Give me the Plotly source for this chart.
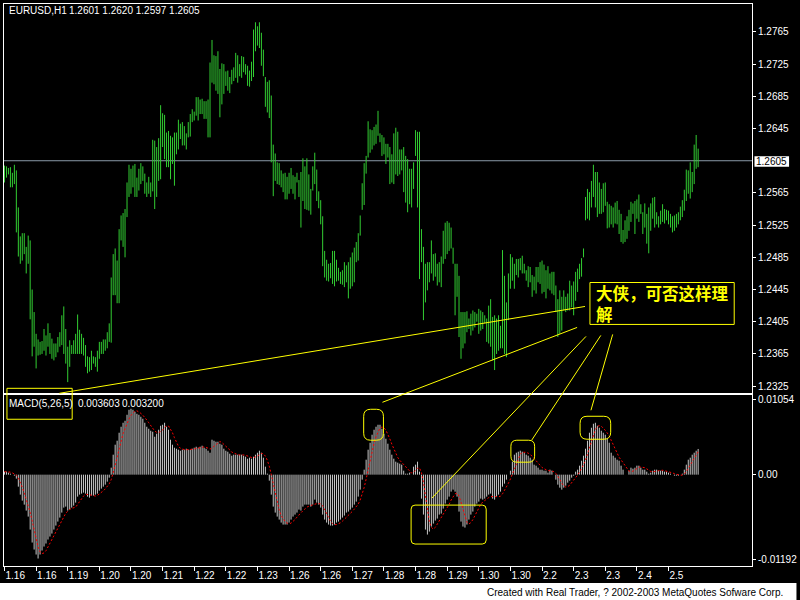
import plotly.graph_objects as go

# ---------------- data ----------------
highs = [1.2599,1.2598,1.2596,1.2597,1.2590,1.2600,1.2593,1.2547,1.2511,1.2515,1.2515,1.2498,1.2512,1.2506,1.2445,1.2417,
1.2390,1.2383,1.2380,1.2381,1.2396,1.2388,1.2403,1.2391,1.2384,1.2378,1.2378,1.2386,1.2392,1.2413,1.2424,1.2396,
1.2374,1.2382,1.2376,1.2382,1.2390,1.2414,1.2395,1.2390,1.2385,1.2376,1.2362,1.2361,1.2369,1.2362,1.2361,1.2369,
1.2380,1.2380,1.2383,1.2383,1.2392,1.2403,1.2460,1.2489,1.2496,1.2481,1.2520,1.2537,1.2540,1.2545,1.2578,1.2600,
1.2595,1.2599,1.2601,1.2584,1.2595,1.2602,1.2598,1.2589,1.2578,1.2585,1.2578,1.2631,1.2630,1.2622,1.2633,1.2674,
1.2664,1.2662,1.2640,1.2642,1.2636,1.2634,1.2640,1.2640,1.2656,1.2651,1.2653,1.2648,1.2639,1.2653,1.2663,1.2669,
1.2666,1.2684,1.2684,1.2681,1.2682,1.2679,1.2679,1.2681,1.2727,1.2755,1.2736,1.2735,1.2741,1.2719,1.2726,1.2725,
1.2716,1.2717,1.2709,1.2718,1.2721,1.2739,1.2736,1.2725,1.2735,1.2734,1.2725,1.2723,1.2717,1.2728,1.2768,1.2777,
1.2772,1.2777,1.2764,1.2743,1.2709,1.2703,1.2705,1.2686,1.2625,1.2614,1.2603,1.2602,1.2593,1.2589,1.2590,1.2585,
1.2590,1.2596,1.2587,1.2585,1.2590,1.2581,1.2591,1.2608,1.2598,1.2608,1.2588,1.2570,1.2598,1.2615,1.2594,1.2567,
1.2556,1.2536,1.2493,1.2482,1.2477,1.2478,1.2493,1.2493,1.2482,1.2472,1.2467,1.2469,1.2479,1.2475,1.2479,1.2485,
1.2491,1.2497,1.2504,1.2515,1.2537,1.2577,1.2602,1.2611,1.2654,1.2644,1.2643,1.2647,1.2650,1.2667,1.2639,1.2637,
1.2634,1.2626,1.2626,1.2622,1.2613,1.2639,1.2646,1.2641,1.2619,1.2619,1.2622,1.2611,1.2607,1.2595,1.2595,1.2603,
1.2643,1.2641,1.2641,1.2520,1.2498,1.2477,1.2479,1.2479,1.2506,1.2489,1.2490,1.2477,1.2479,1.2486,1.2518,1.2528,
1.2530,1.2528,1.2522,1.2497,1.2477,1.2477,1.2462,1.2417,1.2417,1.2417,1.2418,1.2409,1.2415,1.2419,1.2417,1.2415,
1.2421,1.2419,1.2417,1.2413,1.2409,1.2425,1.2433,1.2411,1.2413,1.2409,1.2413,1.2400,1.2494,1.2462,1.2429,1.2465,
1.2489,1.2485,1.2477,1.2483,1.2483,1.2484,1.2487,1.2477,1.2469,1.2474,1.2473,1.2463,1.2461,1.2473,1.2473,1.2479,
1.2481,1.2476,1.2469,1.2474,1.2465,1.2467,1.2467,1.2450,1.2433,1.2444,1.2436,1.2444,1.2436,1.2440,1.2456,1.2450,
1.2455,1.2467,1.2471,1.2477,1.2484,1.2496,1.2560,1.2570,1.2566,1.2580,1.2600,1.2591,1.2591,1.2578,1.2570,1.2577,
1.2578,1.2554,1.2551,1.2549,1.2547,1.2553,1.2555,1.2544,1.2539,1.2519,1.2531,1.2536,1.2544,1.2554,1.2552,1.2555,
1.2557,1.2563,1.2551,1.2541,1.2552,1.2539,1.2547,1.2552,1.2559,1.2560,1.2541,1.2536,1.2543,1.2551,1.2545,1.2544,
1.2543,1.2539,1.2536,1.2537,1.2539,1.2541,1.2548,1.2556,1.2569,1.2594,1.2593,1.2603,1.2591,1.2625,1.2637,1.2620]

lows = [1.2578,1.2584,1.2588,1.2572,1.2572,1.2576,1.2516,1.2486,1.2477,1.2481,1.2489,1.2465,1.2477,1.2408,1.2362,1.2374,
1.2347,1.2363,1.2364,1.2365,1.2369,1.2363,1.2374,1.2365,1.2359,1.2357,1.2361,1.2367,1.2374,1.2376,1.2365,1.2353,
1.2330,1.2349,1.2365,1.2365,1.2365,1.2365,1.2365,1.2365,1.2363,1.2349,1.2341,1.2343,1.2345,1.2353,1.2349,1.2343,
1.2359,1.2365,1.2365,1.2369,1.2372,1.2380,1.2379,1.2438,1.2438,1.2428,1.2428,1.2506,1.2498,1.2485,1.2535,1.2560,
1.2564,1.2572,1.2560,1.2560,1.2568,1.2576,1.2580,1.2564,1.2560,1.2564,1.2560,1.2567,1.2545,1.2560,1.2580,1.2582,
1.2622,1.2607,1.2597,1.2597,1.2582,1.2601,1.2574,1.2613,1.2619,1.2632,1.2624,1.2624,1.2619,1.2634,1.2635,1.2653,
1.2655,1.2661,1.2655,1.2663,1.2663,1.2657,1.2657,1.2634,1.2634,1.2702,1.2700,1.2692,1.2688,1.2659,1.2675,1.2688,
1.2698,1.2692,1.2689,1.2700,1.2704,1.2708,1.2702,1.2710,1.2708,1.2715,1.2712,1.2698,1.2697,1.2704,1.2709,1.2741,
1.2748,1.2745,1.2723,1.2710,1.2672,1.2665,1.2658,1.2603,1.2561,1.2580,1.2576,1.2575,1.2572,1.2566,1.2557,1.2557,
1.2564,1.2570,1.2564,1.2557,1.2578,1.2560,1.2522,1.2555,1.2545,1.2544,1.2543,1.2538,1.2568,1.2576,1.2555,1.2546,
1.2526,1.2474,1.2460,1.2456,1.2455,1.2459,1.2452,1.2449,1.2455,1.2456,1.2452,1.2451,1.2448,1.2454,1.2434,1.2446,
1.2449,1.2454,1.2479,1.2481,1.2512,1.2544,1.2550,1.2589,1.2609,1.2615,1.2619,1.2624,1.2626,1.2636,1.2628,1.2611,
1.2613,1.2601,1.2609,1.2576,1.2578,1.2576,1.2588,1.2586,1.2588,1.2593,1.2566,1.2553,1.2541,1.2551,1.2547,1.2570,
1.2611,1.2547,1.2458,1.2479,1.2407,1.2429,1.2444,1.2454,1.2465,1.2456,1.2461,1.2450,1.2454,1.2448,1.2477,1.2483,
1.2489,1.2493,1.2496,1.2477,1.2413,1.2436,1.2386,1.2359,1.2372,1.2378,1.2392,1.2396,1.2388,1.2394,1.2398,1.2405,
1.2390,1.2394,1.2396,1.2403,1.2380,1.2378,1.2374,1.2357,1.2345,1.2365,1.2369,1.2372,1.2372,1.2365,1.2361,1.2407,
1.2446,1.2456,1.2446,1.2463,1.2460,1.2469,1.2465,1.2465,1.2456,1.2448,1.2454,1.2436,1.2444,1.2440,1.2454,1.2452,
1.2440,1.2442,1.2434,1.2446,1.2444,1.2440,1.2438,1.2417,1.2386,1.2390,1.2394,1.2419,1.2417,1.2419,1.2419,1.2423,
1.2413,1.2431,1.2442,1.2458,1.2461,1.2485,1.2531,1.2533,1.2531,1.2547,1.2560,1.2547,1.2535,1.2539,1.2539,1.2541,
1.2549,1.2521,1.2522,1.2526,1.2522,1.2527,1.2526,1.2514,1.2504,1.2502,1.2504,1.2508,1.2518,1.2529,1.2539,1.2514,
1.2533,1.2529,1.2539,1.2514,1.2522,1.2502,1.2490,1.2518,1.2533,1.2522,1.2526,1.2522,1.2526,1.2529,1.2527,1.2531,
1.2526,1.2522,1.2516,1.2518,1.2522,1.2526,1.2531,1.2535,1.2543,1.2555,1.2564,1.2558,1.2566,1.2576,1.2595,1.2597]

macd = [0.00042,0.00042,0.00028,0.00014,0.0,-0.00014,-0.00056,-0.00168,-0.0028,-0.00364,-0.0042,-0.00504,-0.00588,-0.0077,-0.00952,-0.0105,
-0.0112,-0.01176,-0.0112,-0.01064,-0.01008,-0.00966,-0.0091,-0.00868,-0.00826,-0.0077,-0.00714,-0.00658,-0.00602,-0.00532,-0.00462,-0.00448,
-0.00504,-0.0049,-0.00462,-0.00434,-0.00392,-0.00308,-0.0028,-0.00266,-0.00252,-0.00266,-0.00308,-0.00322,-0.00294,-0.00294,-0.0028,-0.00266,
-0.00224,-0.00196,-0.00168,-0.0014,-0.00098,-0.00042,0.00098,0.0028,0.0042,0.00476,0.00588,0.00672,0.00728,0.00756,0.0084,0.0091,
0.00924,0.0091,0.00882,0.00854,0.0084,0.00812,0.00784,0.00728,0.00672,0.00644,0.00616,0.00602,0.00532,0.00574,0.0063,0.00686,
0.007,0.00728,0.00672,0.0063,0.0049,0.0042,0.00378,0.00364,0.0035,0.00336,0.0035,0.0035,0.00364,0.0035,0.0035,0.00364,
0.00378,0.00392,0.00378,0.00392,0.00406,0.00378,0.00364,0.00336,0.00308,0.0049,0.00476,0.00462,0.00462,0.00434,0.0042,0.00364,
0.00336,0.00322,0.00294,0.00266,0.0028,0.0028,0.0028,0.0028,0.0028,0.00266,0.00252,0.00224,0.00238,0.00224,0.00252,0.0028,
0.00308,0.00336,0.00308,0.00238,0.00112,0.00014,-0.00084,-0.0028,-0.00448,-0.00532,-0.00588,-0.0063,-0.00672,-0.007,-0.007,-0.007,
-0.00672,-0.0063,-0.00588,-0.0056,-0.00532,-0.0049,-0.00504,-0.00448,-0.0042,-0.0042,-0.0042,-0.00448,-0.0042,-0.0035,-0.00392,-0.0042,
-0.00462,-0.0056,-0.0063,-0.00672,-0.007,-0.00714,-0.00714,-0.007,-0.00672,-0.00658,-0.0063,-0.00602,-0.00574,-0.00532,-0.00518,-0.0049,
-0.00462,-0.0042,-0.00378,-0.00308,-0.0021,-0.0007,0.0007,0.0021,0.0035,0.00448,0.0056,0.0063,0.00672,0.007,0.007,0.00644,
0.00574,0.00504,0.00434,0.0035,0.0028,0.00224,0.00182,0.00168,0.00154,0.0014,0.00056,0.00014,0.00014,0.00028,0.0,0.00112,
0.0014,0.00182,0.00042,-0.00336,-0.0056,-0.0077,-0.0084,-0.00798,-0.00728,-0.00686,-0.00644,-0.00616,-0.0056,-0.00546,-0.00476,-0.00406,
-0.0035,-0.00308,-0.00238,-0.0021,-0.00238,-0.00308,-0.00518,-0.00658,-0.00728,-0.00742,-0.007,-0.0063,-0.0056,-0.00518,-0.00448,-0.00406,
-0.00378,-0.00336,-0.0035,-0.00336,-0.00308,-0.0028,-0.00266,-0.00336,-0.0035,-0.00308,-0.0028,-0.00238,-0.00168,-0.00126,-0.0007,0.0,
0.00056,0.00182,0.0028,0.00308,0.00322,0.00336,0.00322,0.00308,0.0028,0.00266,0.00238,0.0021,0.0014,0.00126,0.00098,0.0007,
0.0007,0.00056,0.00056,0.00028,0.0007,0.00056,0.0,-0.0007,-0.0014,-0.00182,-0.0021,-0.00182,-0.00154,-0.00112,-0.00084,-0.00042,
-0.00014,0.00042,0.0007,0.00126,0.00196,0.00266,0.00364,0.00476,0.00588,0.00658,0.00714,0.00728,0.00686,0.00658,0.00616,0.00588,
0.0056,0.00504,0.00448,0.00308,0.00266,0.00238,0.0021,0.00196,0.00126,0.0007,0.0,0.0,0.00056,0.00098,0.00084,0.00098,
0.00126,0.00126,0.00098,0.0007,0.0007,0.00042,0.00014,0.00028,0.00056,0.0007,0.0007,0.00056,0.00056,0.00056,0.00042,0.00042,
0.00028,0.00014,0.0,-0.00014,-0.00014,-0.00014,0.0,0.00014,0.0007,0.0014,0.0021,0.00238,0.0028,0.00308,0.00336,0.003603]

signal = [0.00042,0.00042,0.00042,0.00035,0.00025,0.00014,-0.00006,-0.00045,-0.00104,-0.00176,-0.00258,-0.00347,-0.00431,-0.00529,-0.00647,-0.00773,
-0.00896,-0.01014,-0.01084,-0.01106,-0.01098,-0.01067,-0.01014,-0.00963,-0.00916,-0.00868,-0.00818,-0.00767,-0.00714,-0.00655,-0.00594,-0.0054,
-0.0051,-0.00487,-0.00473,-0.00468,-0.00456,-0.00417,-0.00375,-0.00336,-0.003,-0.00274,-0.00274,-0.00283,-0.00288,-0.00297,-0.003,-0.00291,
-0.00272,-0.00252,-0.00227,-0.00199,-0.00165,-0.00129,-0.0007,0.0002,0.00132,0.00246,0.00372,0.00487,0.00577,0.00644,0.00717,0.00781,
0.00832,0.00868,0.00893,0.00896,0.00882,0.0086,0.00834,0.00804,0.00767,0.00728,0.00689,0.00652,0.00613,0.00594,0.00591,0.00605,
0.00624,0.00664,0.00683,0.00683,0.00644,0.00588,0.00518,0.00456,0.004,0.0037,0.00356,0.0035,0.0035,0.0035,0.00353,0.00356,
0.00361,0.00367,0.00372,0.00381,0.00389,0.00389,0.00384,0.00375,0.00358,0.00375,0.00395,0.00414,0.0044,0.00465,0.00451,0.00428,
0.00403,0.00375,0.00347,0.00316,0.003,0.00288,0.0028,0.00277,0.0028,0.00277,0.00272,0.0026,0.00252,0.00241,0.00238,0.00244,
0.0026,0.0028,0.00297,0.00294,0.0026,0.00202,0.00118,0.0,-0.00137,-0.00266,-0.00386,-0.00496,-0.00574,-0.00624,-0.00658,-0.0068,
-0.00689,-0.0068,-0.00658,-0.0063,-0.00596,-0.0056,-0.00535,-0.00507,-0.00479,-0.00456,-0.00442,-0.00431,-0.00426,-0.00412,-0.00406,-0.00406,
-0.00409,-0.00437,-0.00493,-0.00549,-0.00605,-0.00655,-0.00686,-0.007,-0.007,-0.00692,-0.00675,-0.00652,-0.00627,-0.00599,-0.00571,-0.00543,
-0.00515,-0.00484,-0.00454,-0.00412,-0.00356,-0.00277,-0.00179,-0.00062,0.0007,0.00202,0.00328,0.0044,0.00532,0.00602,0.00652,0.00669,
0.00658,0.00624,0.00571,0.00501,0.00428,0.00358,0.00294,0.00241,0.00202,0.00174,0.0014,0.00106,0.00076,0.0005,0.00022,0.00034,
0.00059,0.00092,0.00095,0.00028,-0.00106,-0.00288,-0.00493,-0.00661,-0.00739,-0.00764,-0.00739,-0.00694,-0.00647,-0.0061,-0.00568,-0.00521,
-0.00468,-0.00417,-0.00356,-0.00302,-0.00269,-0.0026,-0.00302,-0.00386,-0.0049,-0.00591,-0.00669,-0.00692,-0.00672,-0.0063,-0.00571,-0.00512,
-0.00462,-0.00417,-0.00384,-0.00361,-0.00342,-0.00322,-0.00308,-0.00305,-0.00308,-0.00308,-0.00308,-0.00302,-0.00269,-0.00224,-0.00176,-0.0012,
-0.00062,0.00008,0.0009,0.00165,0.0023,0.00286,0.00314,0.00319,0.00314,0.00302,0.00283,0.0026,0.00227,0.00196,0.00162,0.00129,
0.00101,0.00084,0.0007,0.00056,0.00056,0.00053,0.00042,0.00017,-0.00017,-0.00067,-0.0012,-0.00157,-0.00174,-0.00168,-0.00148,-0.00115,
-0.00081,-0.00042,-0.00006,0.00036,0.00084,0.0014,0.00204,0.00286,0.00378,0.0047,0.0056,0.00633,0.00675,0.00689,0.0068,0.00655,
0.00622,0.00585,0.00543,0.00482,0.00417,0.00353,0.00294,0.00244,0.00207,0.00168,0.0012,0.00078,0.0005,0.00045,0.00048,0.00067,
0.00092,0.00106,0.00106,0.00104,0.00098,0.00081,0.00059,0.00045,0.00042,0.00042,0.00048,0.00056,0.00062,0.00062,0.00056,0.0005,
0.00045,0.00036,0.00025,0.00014,0.00003,-0.00006,-0.00008,-0.00006,0.00011,0.00042,0.00087,0.00134,0.00188,0.00235,0.00274,0.0032]

date_labels = ["1.16","1.16","1.19","1.20","1.20","1.21","1.22","1.22","1.23","1.26","1.26",
               "1.27","1.28","1.28","1.29","1.30","1.30","2.2","2.3","2.3","2.4","2.5"]
last_ohlc = [1.2601, 1.2620, 1.2597, 1.2605]
price_ticks = [1.2765, 1.2725, 1.2685, 1.2645, 1.2565, 1.2525, 1.2485, 1.2445, 1.2405, 1.2365, 1.2325]
macd_ticks = [0.01054, 0.0, -0.01192]
macd_ticktext = ["0.01054", "0.00", "-0.01192"]
note_text = "大侠，可否这样理<br>解"

# ---------------- layout helpers ----------------
L, R, T, B = 3, 760, 3, 566          # plot-area box in pixels


def px(x):
    return (x - L) / (R - L)


def py(y):
    return (B - y) / (B - T)


n = len(highs)
idx = list(range(n))
label_pos = [16 * k for k in range(len(date_labels))]

GREEN = "#32cd32"
SILVER = "#c8c8c8"
YEL = "#ffff00"
FONT = "Liberation Sans"

# vertical high-low strokes and histogram strokes, drawn as separate line segments
bx, by = [], []
for i, h, l in zip(idx, highs, lows):
    bx += [i, i, None]
    by += [l, h, None]
hx, hy = [], []
for i, v in zip(idx, macd):
    hx += [i, i, None]
    hy += [0, v, None]

fig = go.Figure()
fig.add_trace(go.Scatter(x=bx, y=by, mode="lines", line=dict(color=GREEN, width=1, simplify=False),
                         xaxis="x", yaxis="y", hoverinfo="skip", connectgaps=False))
fig.add_trace(go.Scatter(x=hx, y=hy, mode="lines", line=dict(color=SILVER, width=1, simplify=False),
                         xaxis="x2", yaxis="y2", hoverinfo="skip", connectgaps=False))
fig.add_trace(go.Scatter(x=idx, y=signal, mode="lines", line=dict(color="#ff0000", width=1, dash="2px,2px"),
                         xaxis="x2", yaxis="y2", hoverinfo="skip"))

xr = [-0.25, -0.25 + (R - L) / 2]
axis_common = dict(showline=True, mirror=True, linecolor="white", linewidth=1, showgrid=False,
                   zeroline=False, color="white")
tickfont = dict(family=FONT, size=10, color="white")

fig.update_layout(
    width=800, height=600,
    margin=dict(l=L, r=800 - R, t=T, b=600 - B),
    paper_bgcolor="black", plot_bgcolor="black",
    showlegend=False,
    font=dict(family=FONT, size=10, color="white"),
    xaxis=dict(domain=[0, 1], range=xr, anchor="y", showticklabels=False, ticks="", **axis_common),
    yaxis=dict(domain=[py(393), 1], range=[1.23161, 1.27997], side="right", anchor="x",
               tickvals=price_ticks, ticktext=[f"{v:.4f}" for v in price_ticks],
               ticks="outside", ticklen=3, tickcolor="white", tickfont=tickfont, **axis_common),
    xaxis2=dict(domain=[0, 1], range=xr, anchor="y2", tickvals=label_pos, ticktext=date_labels,
                ticks="outside", ticklen=4, tickcolor="white", ticklabelposition="outside right",
                tickfont=tickfont, **axis_common),
    yaxis2=dict(domain=[0, py(395)], range=[-0.01281, 0.01113], side="right", anchor="x2",
                tickvals=macd_ticks, ticktext=macd_ticktext,
                ticks="outside", ticklen=3, tickcolor="white", tickfont=tickfont, **axis_common),
)


def rrect(x0, y0, x1, y1, r):
    def P(x, y):
        return f"{px(x):.5f},{py(y):.5f}"
    path = (f"M{P(x0 + r, y0)} L{P(x1 - r, y0)} Q{P(x1, y0)} {P(x1, y0 + r)} "
            f"L{P(x1, y1 - r)} Q{P(x1, y1)} {P(x1 - r, y1)} L{P(x0 + r, y1)} "
            f"Q{P(x0, y1)} {P(x0, y1 - r)} L{P(x0, y0 + r)} Q{P(x0, y0)} {P(x0 + r, y0)} Z")
    return dict(type="path", xref="paper", yref="paper", path=path, line=dict(color=YEL, width=1))


def pline(x0, y0, x1, y1, color=YEL):
    return dict(type="line", xref="paper", yref="paper", x0=px(x0), y0=py(y0), x1=px(x1), y1=py(y1),
                line=dict(color=color, width=1))


def prect(x0, y0, x1, y1, line=YEL):
    return dict(type="rect", xref="paper", yref="paper", x0=px(x0), y0=py(y0), x1=px(x1), y1=py(y1),
                line=dict(color=line, width=1))


shapes = [
    dict(type="rect", xref="paper", yref="paper", x0=px(-5), x1=px(805), y0=py(605), y1=py(583),
         fillcolor="white", line=dict(width=0), layer="above"),
    dict(type="line", xref="paper", yref="y", x0=0, x1=1, y0=last_ohlc[3], y1=last_ohlc[3],
         line=dict(color="#8a99a8", width=1), layer="below"),
    dict(type="rect", xref="paper", yref="paper", x0=px(762.5), x1=px(797.5), y0=py(166), y1=py(155.5),
         fillcolor="white", line=dict(width=0)),
    prect(6, 388, 72, 419),
    pline(59, 393, 591, 306),
    pline(386, 402, 583, 327),
    pline(592, 336, 436, 498),
    pline(607, 335, 537, 440),
    pline(619, 334, 597, 410),
    rrect(367, 409, 387, 440, 7),
    rrect(516, 440, 540, 462, 6),
    rrect(586, 416, 617, 439, 7),
    rrect(415, 505, 491, 544, 4),
    prect(596, 282, 742, 324),
]
fig.update_layout(shapes=shapes)

ann = [
    dict(text="EURUSD,H1", x=px(6), y=py(9.5), xanchor="left", yanchor="middle"),
    dict(text=" ".join(f"{v:.4f}" for v in last_ohlc), x=px(66.5), y=py(9.5), xanchor="left", yanchor="middle"),
    dict(text="MACD(5,26,5)", x=px(6.5), y=py(403.5), xanchor="left", yanchor="middle"),
    dict(text=f"{macd[-1]:.6f}", x=px(76), y=py(403.5), xanchor="left", yanchor="middle"),
    dict(text=f"{signal[-1]:.6f}", x=px(120), y=py(403.5), xanchor="left", yanchor="middle"),
    dict(text=f"{last_ohlc[3]:.4f}", x=px(780), y=py(161), xanchor="center", yanchor="middle",
         font=dict(family=FONT, size=10, color="black")),
    dict(text=note_text, x=px(600), y=py(303), xanchor="left", yanchor="middle", align="left",
         font=dict(family="Noto Sans CJK SC", size=16.5, color=YEL, weight="bold")),
    dict(text="Created with Real Trader, ? 2002-2003 MetaQuotes Sofware Corp.", x=px(793), y=py(592.5),
         xanchor="right", yanchor="middle", font=dict(family=FONT, size=10, color="black")),
]
for a in ann:
    a.update(xref="paper", yref="paper", showarrow=False)
    a.setdefault("font", dict(family=FONT, size=10, color="white"))
fig.update_layout(annotations=ann)

fig.write_html("out.html", config={"displayModeBar": False},
               post_script="document.body.style.margin='0';document.body.style.padding='0';")
